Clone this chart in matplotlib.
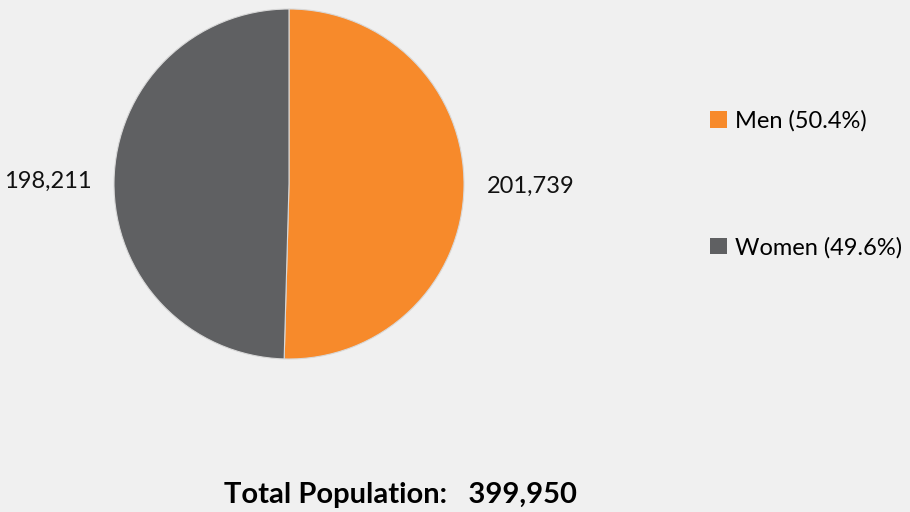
import matplotlib.pyplot as plt
from matplotlib.patches import Patch

# population by sex
groups = ['Men', 'Women']
counts = [201739, 198211]
shares = [50.4, 49.6]
total = 399950

colors = ['#F78A2B', '#5F6062']
bg = '#F0F0F0'

plt.rcParams['font.family'] = ['Lato', 'DejaVu Sans']

fig = plt.figure(figsize=(9.1, 5.12), dpi=100, facecolor=bg)
W, H = 910, 512
cx, cy, r = 289, 184, 175
ax = fig.add_axes([(cx - r) / W, (H - cy - r) / H, 2 * r / W, 2 * r / H])
ax.set_facecolor(bg)

wedges, texts = ax.pie(counts, colors=colors, startangle=90, counterclock=False,
                       labels=[f'{c:,}' for c in counts], labeldistance=1.13,
                       radius=1.0,
                       wedgeprops=dict(edgecolor='#D8D8D8', linewidth=0.8),
                       textprops=dict(fontsize=17, color='#111111'))
ax.set_xlim(-1, 1)
ax.set_ylim(-1, 1)
ax.set_aspect('equal')

handles = [Patch(facecolor=c, edgecolor='none') for c in colors]
labels = [f'{g} ({s}%)' for g, s in zip(groups, shares)]
fig.legend(handles, labels, loc='upper left', bbox_to_anchor=(710 / W, 1 - 110 / H),
           frameon=False, fontsize=17, handlelength=0.7, handleheight=0.7,
           handletextpad=0.35, labelspacing=4.45, borderaxespad=0, borderpad=0)

fig.text(400 / W, 1 - 495 / H, f'Total Population:   {total:,}', ha='center', va='center',
         fontsize=21, fontweight='bold', color='#000000')

fig.savefig('out.png', dpi=100, facecolor=bg)
